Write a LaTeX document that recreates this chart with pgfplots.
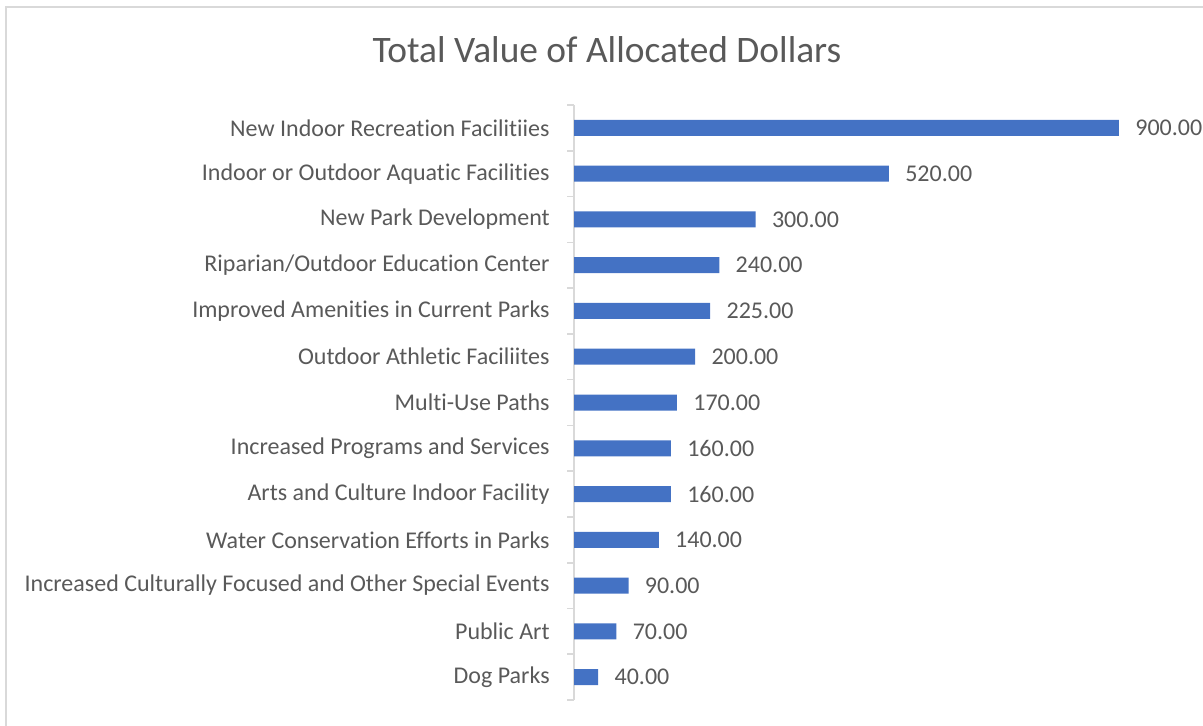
\documentclass[border=0pt]{standalone}
\usepackage{pgfplots}
\pgfplotsset{compat=1.18}
\usepackage{fontspec}
\setmainfont{Carlito}[Ligatures=NoCommon]
\definecolor{barblue}{HTML}{4472C4}
\definecolor{txt}{HTML}{595959}
\definecolor{axgray}{HTML}{D9D9D9}
\begin{document}
\begin{tikzpicture}
\useasboundingbox (0,0) rectangle (601.5pt,362.5pt);
\draw[axgray, line width=0.9pt] (3pt,-5pt) -- (3pt,359pt) -- (610pt,359pt);
\node[text=txt, font=\fontsize{18.7}{22}\selectfont] at (303.5pt,337.5pt) {Total Value of Allocated Dollars};
\begin{axis}[
  at={(287pt,12.5pt)}, anchor=south west,
  scale only axis, width=272.5pt, height=297.5pt,
  xmin=0, xmax=900, ymin=0.5, ymax=13.5,
  xbar, bar width=8pt,
  axis x line=none, axis y line*=left,
  y axis line style={axgray, line width=0.8pt},
  ytick={1,...,13}, major tick length=0pt,
  minor ytick={0.5,1.5,...,13.5}, minor tick length=3.5pt, tick align=outside,
  minor tick style={axgray, line width=0.8pt},
  yticklabels={Dog Parks, Public Art, Increased Culturally Focused and Other Special Events, Water Conservation Efforts in Parks, Arts and Culture Indoor Facility, Increased Programs and Services, Multi-Use Paths, Outdoor Athletic Faciliites, Improved Amenities in Current Parks, Riparian/Outdoor Education Center, New Park Development, Indoor or Outdoor Aquatic Facilities, New Indoor Recreation Facilitiies},
  yticklabel style={text=txt, font=\fontsize{12}{14}\selectfont, inner sep=0pt, xshift=-12pt},
  nodes near coords,
  nodes near coords style={text=txt, font=\fontsize{12}{14}\selectfont, inner sep=0pt, xshift=8pt, anchor=west,
    /pgf/number format/.cd, fixed, fixed zerofill, precision=2, assume math mode=true},
  clip=false,
]
\addplot[fill=barblue, draw=none] coordinates {
(40,1) (70,2) (90,3) (140,4) (160,5) (160,6) (170,7) (200,8) (225,9) (240,10) (300,11) (520,12) (900,13)};
\end{axis}
\end{tikzpicture}
\end{document}
